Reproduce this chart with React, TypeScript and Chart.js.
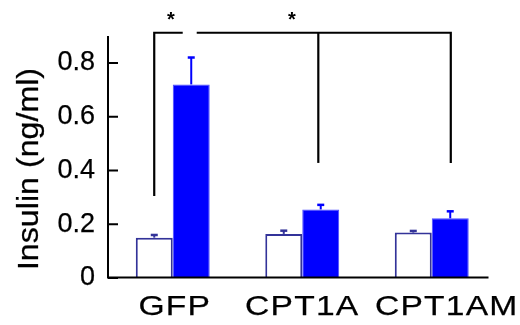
import React, { useEffect, useRef } from "react";
import { Chart, registerables } from "chart.js";

Chart.register(...registerables);

const categories = ["GFP", "CPT1A", "CPT1AM"];
const controlValues = [0.15, 0.164, 0.169];
const controlErrors = [0.01, 0.012, 0.006];
const treatedValues = [0.72, 0.255, 0.222];
const treatedErrors = [0.1, 0.017, 0.026];
const yTicks = [0, 0.2, 0.4, 0.6, 0.8];
const yTitle = "Insulin (ng/ml)";
// significance brackets: polylines of [category position, value]
const bracketPaths: number[][][] = [
  [[-0.143, 0.305], [-0.143, 0.912], [0.077, 0.912]],
  [[0.185, 0.912], [2.147, 0.912], [2.147, 0.428]],
  [[1.124, 0.912], [1.124, 0.428]],
];
const asterisks: number[][] = [[-0.015, 0.979], [0.92, 0.979]];

const FONT = "'Liberation Sans', Arial, Helvetica, sans-serif";
const xLabelShift = [2, 0, 15];

export default function App() {
  const ref = useRef<HTMLCanvasElement | null>(null);

  useEffect(() => {
    if (!ref.current) return;
    const overlay = {
      id: "overlay",
      afterDatasetsDraw(chart: any) {
        const ctx = chart.ctx;
        const y = chart.scales.y;
        const sets = [
          { vals: controlValues, errs: controlErrors, color: "#333399" },
          { vals: treatedValues, errs: treatedErrors, color: "#0000ff" },
        ];
        ctx.save();
        sets.forEach((s, di) => {
          const meta = chart.getDatasetMeta(di);
          meta.data.forEach((bar: any, i: number) => {
            const x = bar.x;
            const y0 = y.getPixelForValue(s.vals[i]);
            const y1 = y.getPixelForValue(s.vals[i] + s.errs[i]);
            ctx.strokeStyle = s.color;
            ctx.lineWidth = 2;
            ctx.beginPath();
            ctx.moveTo(x, y0);
            ctx.lineTo(x, y1);
            ctx.stroke();
            ctx.lineWidth = 2.5;
            ctx.beginPath();
            ctx.moveTo(x - 3.5, y1);
            ctx.lineTo(x + 3.5, y1);
            ctx.stroke();
          });
        });
        ctx.restore();
      },
      afterDraw(chart: any) {
        const ctx = chart.ctx;
        const xs = chart.scales.x;
        const ys = chart.scales.y;
        const a = chart.chartArea;
        ctx.save();
        // axes
        ctx.strokeStyle = "#000";
        ctx.lineWidth = 2;
        ctx.beginPath();
        ctx.moveTo(a.left, a.top);
        ctx.lineTo(a.left, a.bottom);
        ctx.moveTo(a.left - 1, a.bottom - 0.5);
        ctx.lineTo(a.right - 8, a.bottom - 0.5);
        yTicks.forEach((v) => {
          const py = ys.getPixelForValue(v);
          ctx.moveTo(a.left, py);
          ctx.lineTo(a.left + 10, py);
        });
        ctx.stroke();
        // brackets
        ctx.lineWidth = 2.2;
        bracketPaths.forEach((p) => {
          ctx.beginPath();
          p.forEach((pt, k) => {
            const px = xs.getPixelForValue(pt[0]);
            const py = ys.getPixelForValue(pt[1]);
            if (k === 0) ctx.moveTo(px, py);
            else ctx.lineTo(px, py);
          });
          ctx.stroke();
        });
        ctx.fillStyle = "#000";
        ctx.textAlign = "center";
        ctx.textBaseline = "alphabetic";
        ctx.font = `bold 20px ${FONT}`;
        asterisks.forEach((pt) => {
          ctx.fillText("*", xs.getPixelForValue(pt[0]), ys.getPixelForValue(pt[1]) + 11);
        });
        // x labels (horizontally widened)
        ctx.font = `28px ${FONT}`;
        ctx.lineWidth = 0.25;
        ctx.strokeStyle = "#000";
        (ctx as any).letterSpacing = "1px";
        categories.forEach((c, i) => {
          const cx = xs.getPixelForValue(i) + xLabelShift[i];
          ctx.save();
          ctx.translate(cx, a.bottom + 36.5);
          ctx.scale(1.2, 1);
          ctx.fillText(c, 0, 0);
          ctx.strokeText(c, 0, 0);
          ctx.restore();
        });
        (ctx as any).letterSpacing = "0px";
        // y title
        ctx.font = `29px ${FONT}`;
        ctx.translate(38, 169);
        ctx.rotate(-Math.PI / 2);
        ctx.scale(1.11, 1);
        ctx.fillText(yTitle, 0, 0);
        ctx.strokeText(yTitle, 0, 0);
        ctx.restore();
      },
    };

    const chart = new Chart(ref.current, {
      type: "bar",
      data: {
        labels: categories,
        datasets: [
          {
            data: controlValues,
            backgroundColor: "#ffffff",
            borderColor: "#333399",
            borderWidth: 2,
          },
          {
            data: treatedValues,
            backgroundColor: "#0000ff",
            borderColor: "#4d4dff",
            borderWidth: 1,
          },
        ],
      },
      options: {
        responsive: false,
        animation: false,
        devicePixelRatio: 1,
        layout: { padding: { top: 36, right: 23.5, left: 0, bottom: 0 } },
        datasets: { bar: { categoryPercentage: 0.571, barPercentage: 1 } },
        plugins: { legend: { display: false }, tooltip: { enabled: false } },
        scales: {
          x: {
            grid: { display: false, drawTicks: false },
            border: { display: false },
            ticks: { display: false },
            afterFit: (s: any) => {
              s.height = 47;
            },
          },
          y: {
            min: 0,
            max: 0.9,
            grid: { display: false, drawTicks: false },
            border: { display: false },
            afterBuildTicks: (s: any) => {
              s.ticks = yTicks.map((v) => ({ value: v }));
            },
            ticks: {
              padding: 13,
              color: "#000",
              textStrokeColor: "#000",
              textStrokeWidth: 0.25,
              font: { family: FONT, size: 27 },
              callback: (v: any) => (v === 0 ? "0" : Number(v).toFixed(1)),
            },
            afterFit: (s: any) => {
              s.width = 108;
            },
          },
        },
      },
      plugins: [overlay],
    } as any);
    return () => chart.destroy();
  }, []);

  return (
    <div style={{ position: "fixed", left: 0, top: 0, width: 520, height: 325, background: "#fff" }}>
      <canvas ref={ref} width={520} height={325} />
    </div>
  );
}
